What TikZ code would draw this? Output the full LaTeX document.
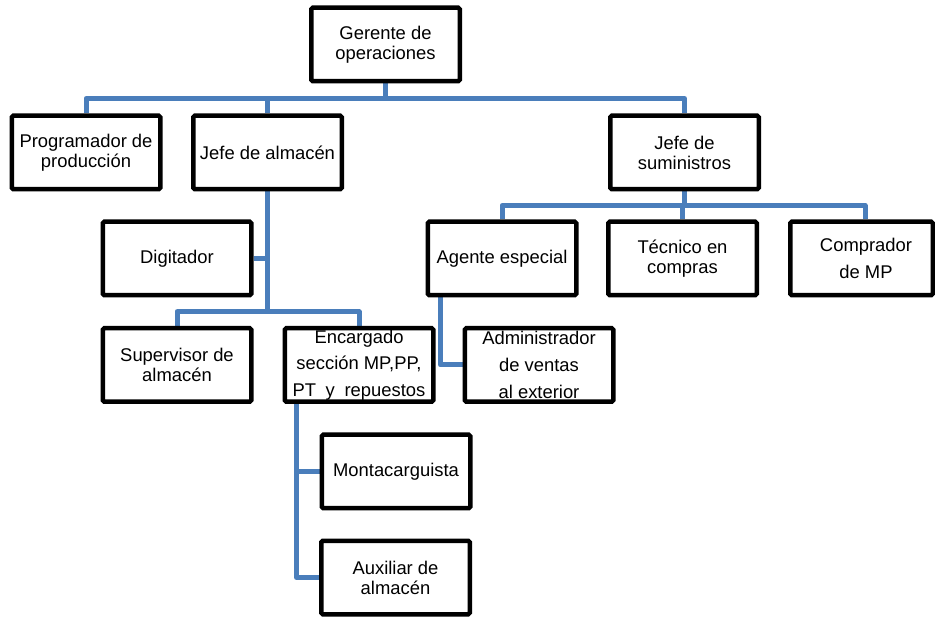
\documentclass[tikz,border=0pt]{standalone}
\usepackage{fontspec}
\setmainfont{Liberation Sans}
\usetikzlibrary{calc,backgrounds}
\definecolor{linkblue}{HTML}{4A7EBB}
\begin{document}
\begin{tikzpicture}[x=1pt,y=-1pt,
  box/.style={draw=black, line width=4.5pt, rounded corners=1.5pt, fill=white,
    minimum width=148.5pt, minimum height=73.5pt, inner sep=0pt, align=center,
    font=\fontsize{18.4}{20}\selectfont},
  widebox/.style={box, font=\fontsize{18.4}{26.7}\selectfont},
  link/.style={draw=linkblue, line width=5pt, line join=round}]
\useasboundingbox (0,0) rectangle (935,617);

% top level
\node[box] (ger) at (385.5,44.5) {Gerente de\\operaciones};
% second level
\node[box] (prog) at (86,152.5) {Programador de\\producción};
\node[box] (jalm) at (267.5,152.5) {Jefe de almacén};
\node[box] (jsum) at (684.5,152.5) {Jefe de\\suministros};
% under Jefe de almacén
\node[box] (dig) at (177,258.5) {Digitador};
\node[box] (sup) at (177,365) {Supervisor de\\almacén};
\node[widebox] (enc) at (359,365) {Encargado\\sección MP,PP,\\PT\hskip 9.6pt y\hskip 9.6pt repuestos};
\node[box] (mon) at (396,471.5) {Montacarguista};
\node[box] (aux) at (395.5,577.5) {Auxiliar de\\almacén};
% under Jefe de suministros
\node[box] (age) at (502,258.5) {Agente especial};
\node[box] (tec) at (682.5,258.5) {Técnico en\\compras};
\node[widebox, minimum width=142.5pt] (com) at (861.5,258.5)
  {\hspace*{9pt}Comprador\\\hspace*{9pt}de MP};
\node[widebox] (adm) at (539,365) {Administrador\\de ventas\\al exterior};

\begin{scope}[on background layer]
  % Gerente de operaciones
  \coordinate (mid0) at ($(ger.south)!0.5!(jalm.north)$);
  \coordinate (bus0) at (ger.south |- mid0);
  \draw[link] (ger.south) -- (bus0);
  \draw[link] (prog.north) |- (bus0) -| (jsum.north);
  \draw[link] (jalm.north) -- (jalm.north |- bus0);
  % Jefe de suministros
  \coordinate (mid1) at ($(jsum.south)!0.5!(tec.north)$);
  \coordinate (bus1) at (jsum.south |- mid1);
  \draw[link] (jsum.south) -- (bus1);
  \draw[link] (age.north) |- (bus1) -| ($(com.north)+(3.5,0)$);
  \draw[link] (tec.north) -- (tec.north |- bus1);
  % Jefe de almacén
  \coordinate (bus2) at ($(dig.south)!0.5!(sup.north)$);
  \draw[link] (jalm.south) -- (jalm.south |- bus2);
  \draw[link] (sup.north) |- (bus2) -| (enc.north);
  \draw[link] (dig.east) -- (dig.east -| jalm.south);
  % Agente especial
  \coordinate (agestem) at ($(age.south west)+(15,0)$);
  \draw[link] (agestem) |- (adm.west);
  % Encargado de sección
  \coordinate (encstem) at ($(enc.south west)+(14,0)$);
  \draw[link] (encstem) |- (aux.west);
  \draw[link] (mon.west) -- (mon.west -| encstem);
\end{scope}
\end{tikzpicture}
\end{document}
